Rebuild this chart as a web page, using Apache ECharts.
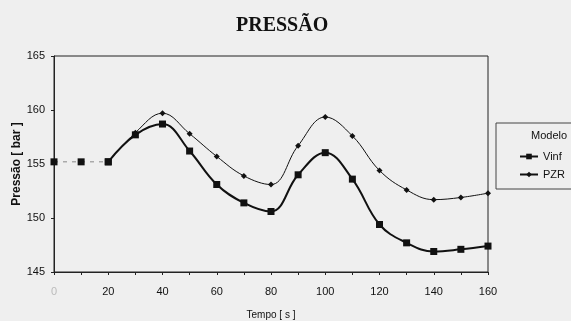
<!DOCTYPE html>
<html>
<head>
<meta charset="utf-8">
<script src="https://cdn.jsdelivr.net/npm/echarts@6/dist/echarts.min.js"></script>
<style>
	html, body { margin: 0; padding: 0; background: #efefef; }
	#chart { width: 571px; height: 321px; }
</style>
</head>
<body>
<div id="chart"></div>
<script>
// 时间轴 (s)
const tempo = [0, 10, 20, 30, 40, 50, 60, 70, 80, 90, 100, 110, 120, 130, 140, 150, 160];
// 两条曲线
const vinf = [155.2, 155.2, 155.2, 157.7, 158.7, 156.2, 153.1, 151.4, 150.6, 154.0, 156.05, 153.6, 149.4, 147.7, 146.9, 147.1, 147.4];
const pzr = [155.2, 155.2, 155.2, 157.9, 159.7, 157.8, 155.7, 153.9, 153.1, 156.7, 159.35, 157.6, 154.4, 152.6, 151.7, 151.9, 152.3];
const yTicks = [145, 150, 155, 160, 165];

const pairs = (vals) => tempo.map((t, i) => [t, vals[i]]);
// 前三个点用虚线连接
const LEAD = 3;

const axisFont = { fontFamily: 'Liberation Sans, Arial', fontSize: 11, color: '#111' };

const chart = echarts.init(document.getElementById('chart'));
chart.setOption({
	backgroundColor: '#efefef',
	animation: false,
	title: {
		text: 'PRESSÃO',
		left: 231,
		top: 11,
		textStyle: {
			fontFamily: 'Liberation Serif, Times New Roman',
			fontWeight: 'bold',
			fontSize: 20,
			color: '#111'
		}
	},
	grid: {
		left: 54,
		right: 83,
		top: 56,
		bottom: 49,
		outerBoundsMode: 'none',
		containLabel: false,
		show: true,
		borderColor: '#222',
		borderWidth: 1
	},
	legend: {
		orient: 'vertical',
		left: 514,
		top: 146,
		itemWidth: 18,
		itemHeight: 7,
		itemGap: 7,
		data: ['Vinf', 'PZR'],
		textStyle: { fontFamily: 'Liberation Sans, Arial', fontSize: 11, color: '#111' }
	},
	graphic: [
		{
			type: 'rect',
			shape: { x: 496, y: 123, width: 80, height: 66 },
			style: { fill: 'none', stroke: '#444', lineWidth: 1 }
		},
		{
			type: 'text',
			x: 531,
			y: 130,
			style: { text: 'Modelo', font: '11px Liberation Sans, Arial', fill: '#111' }
		}
	],
	xAxis: {
		type: 'value',
		min: 0,
		max: 160,
		interval: 10,
		name: 'Tempo [ s ]',
		nameLocation: 'middle',
		nameGap: 38,
		nameTextStyle: { fontFamily: 'Liberation Sans, Arial', fontSize: 10, color: '#111' },
		axisLine: { lineStyle: { color: '#222' } },
		axisTick: { show: true, length: 3, lineStyle: { color: '#222' } },
		splitLine: { show: false },
		axisLabel: {
			...axisFont,
			margin: 14,
			formatter: (v) => (v % 20 === 0 ? String(v) : ''),
			color: (v) => (Number(v) === 0 ? '#bbb' : '#111')
		}
	},
	yAxis: {
		type: 'value',
		min: yTicks[0],
		max: yTicks[yTicks.length - 1],
		interval: 5,
		name: 'Pressão [ bar ]',
		nameLocation: 'middle',
		nameGap: 31,
		nameMoveOverlap: false,
		nameTextStyle: { fontFamily: 'Liberation Sans, Arial', fontSize: 12, fontWeight: 'bold', color: '#111' },
		axisLine: { show: true, lineStyle: { color: '#222' } },
		axisTick: { show: true, length: 3, lineStyle: { color: '#222' } },
		splitLine: { show: false },
		axisLabel: { ...axisFont, margin: 9 }
	},
	series: [
		{
			name: 'Vinf',
			type: 'line',
			smooth: 0.4,
			data: pairs(vinf).slice(LEAD - 1),
			symbol: 'rect',
			symbolSize: 7,
			itemStyle: { color: '#111' },
			lineStyle: { color: '#111', width: 2 },
			z: 3
		},
		{
			name: 'PZR',
			type: 'line',
			smooth: 0.4,
			data: pairs(pzr).slice(LEAD - 1),
			symbol: 'diamond',
			symbolSize: 6,
			itemStyle: { color: '#111' },
			lineStyle: { color: '#111', width: 1 },
			z: 3
		},
		{
			name: 'lead',
			type: 'line',
			data: pairs(vinf).slice(0, LEAD),
			symbol: 'rect',
			symbolSize: 7,
			itemStyle: { color: '#111' },
			lineStyle: { color: '#888', width: 1, type: [4, 5] },
			z: 2
		}
	]
});
</script>
</body>
</html>
